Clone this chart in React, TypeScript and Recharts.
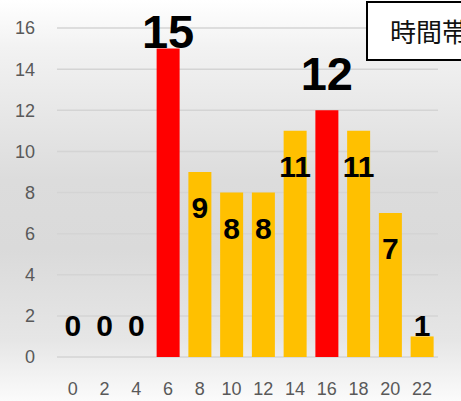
import { ComposedChart, Bar, Line, XAxis, YAxis, CartesianGrid, Cell, LabelList } from "recharts";

const hours = ["0", "2", "4", "6", "8", "10", "12", "14", "16", "18", "20", "22"];
const counts = [0, 0, 0, 15, 9, 8, 8, 11, 12, 11, 7, 1];
const peakHours = ["6", "16"];
const yTicks = [0, 2, 4, 6, 8, 10, 12, 14, 16];

const data = hours.map((h, i) => ({ hour: h, count: counts[i] }));

const BASE_Y = 357;

// labels ride on an invisible line so the zero bars get one too
function ValueLabel(props: any) {
  const { x, y, value, index } = props;
  const peak = peakHours.includes(hours[index]);
  if (peak) {
    const baseline = Math.min(y - 1, 90);
    return (
      <text x={x} y={baseline} textAnchor="middle" fontFamily="Liberation Sans" fontWeight="bold" fontSize={47} fill="#000">
        {value}
      </text>
    );
  }
  const baseline = value >= 2 ? y + 46 : BASE_Y - 21;
  return (
    <text x={x} y={baseline} textAnchor="middle" fontFamily="Liberation Sans" fontWeight="bold" fontSize={30} fill="#000">
      {value}
    </text>
  );
}

export default function App() {
  return (
    <div
      style={{
        position: "fixed",
        left: 0,
        top: 0,
        width: 461,
        height: 401,
        overflow: "hidden",
        background: "linear-gradient(to bottom, #ffffff 0%, #f2f2f2 12%, #dcdcdc 45%, #dadada 62%, #e6e6e6 85%, #fbfbfb 100%)",
      }}
    >
      <ComposedChart
        width={461}
        height={401}
        data={data}
        margin={{ top: 28, right: 23, bottom: 0, left: 0 }}
        barCategoryGap="13.8%"
      >
        <CartesianGrid vertical={false} stroke="#d4d4d4" strokeWidth={1.5} />
        <XAxis
          dataKey="hour"
          height={44}
          axisLine={false}
          tickLine={false}
          tickSize={0}
          tickMargin={25}
          interval={0}
          tick={{ fill: "#595959", fontSize: 18, fontFamily: "Liberation Sans" }}
        />
        <YAxis
          width={57}
          domain={[0, 16]}
          ticks={yTicks}
          axisLine={false}
          tickLine={false}
          tickSize={0}
          tickMargin={22}
          tick={{ fill: "#595959", fontSize: 18, fontFamily: "Liberation Sans" }}
        />
        <Bar dataKey="count" isAnimationActive={false}>
          {data.map((d) => (
            <Cell key={d.hour} fill={peakHours.includes(d.hour) ? "#ff0000" : "#ffc000"} />
          ))}
        </Bar>
        <Line dataKey="count" stroke="none" dot={false} activeDot={false} isAnimationActive={false}>
          <LabelList dataKey="count" content={ValueLabel} />
        </Line>
      </ComposedChart>
      <div
        style={{
          position: "absolute",
          left: 366,
          top: 1,
          width: 160,
          height: 60,
          border: "2px solid #000",
          background: "#fff",
          boxSizing: "border-box",
          fontFamily: "Noto Sans CJK JP",
          fontSize: 26,
          lineHeight: "56px",
          paddingLeft: 22,
          whiteSpace: "nowrap",
          color: "#111",
        }}
      >
        時間帯別件数
      </div>
    </div>
  );
}
